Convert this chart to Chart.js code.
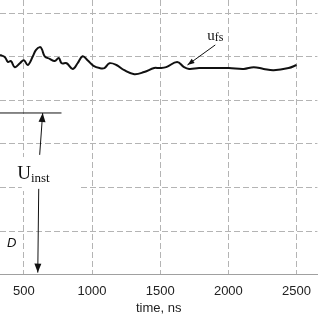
<!DOCTYPE html>
<html>
<head>
<meta charset="utf-8">
<script src="https://cdn.jsdelivr.net/npm/chart.js@4/dist/chart.umd.min.js"></script>
<style>
html,body{margin:0;padding:0;background:#fff;}
#wrap{width:320px;height:320px;}
</style>
</head>
<body>
<div id="wrap"><canvas id="c" width="320" height="320"></canvas></div>
<script>
// time, ns
const times = [325,361,383,405,434,471,500,529,566,588,617,631,653,690,726,756,777,814,858,894,931,967,1011,1055,1091,1128,1179,1237,1310,1383,1456,1493,1544,1624,1675,1712,1785,1894,2004,2113,2186,2259,2332,2442,2500];
// free-surface velocity (relative units)
const ufs = [5.04,4.99,4.88,4.90,4.76,4.85,4.92,4.81,5.01,5.15,5.22,5.18,5.01,4.95,4.90,4.97,4.85,4.85,4.72,4.85,5.01,4.92,4.79,4.74,4.74,4.85,4.81,4.69,4.60,4.65,4.74,4.74,4.76,4.88,4.76,4.72,4.74,4.74,4.74,4.72,4.76,4.72,4.69,4.74,4.81];
const xTicks = [500,1000,1500,2000,2500];
const yTicks = [0,1,2,3,4,5,6];
const xRange = [325,2653];
const yRange = [0,6.3];

const annot = {
  ufsLabel:{x:1845,y:5.38},
  ufsArrow:{x1:1904,y1:5.27,x2:1700,y2:4.81},
  hLine:{x1:325,x2:776,y:3.71},
  upArrow:{x1:616,y1:2.75,x2:638,y2:3.71},
  uinst:{x:451,y:2.2},
  box:{x1:485,x2:907,y1:1.92,y2:2.70},
  downArrow:{x1:609,y1:1.97,x2:602,y2:0.05},
  dLabel:{x:376,y:0.73}
};

function arrow(ctx,x1,y1,x2,y2,len,w){
  ctx.beginPath();ctx.moveTo(x1,y1);ctx.lineTo(x2,y2);ctx.stroke();
  const a=Math.atan2(y2-y1,x2-x1);
  ctx.beginPath();
  ctx.moveTo(x2,y2);
  ctx.lineTo(x2-len*Math.cos(a)+w*Math.sin(a), y2-len*Math.sin(a)-w*Math.cos(a));
  ctx.lineTo(x2-len*Math.cos(a)-w*Math.sin(a), y2-len*Math.sin(a)+w*Math.cos(a));
  ctx.closePath();ctx.fill();
}

const annotPlugin = {
  id:'annot',
  afterDraw(chart){
    const ctx=chart.ctx, xs=chart.scales.x, ys=chart.scales.y;
    const X=v=>xs.getPixelForValue(v), Y=v=>ys.getPixelForValue(v);
    ctx.save();
    const b=annot.box;
    ctx.fillStyle='#fff';
    ctx.fillRect(X(b.x1),Y(b.y2),X(b.x2)-X(b.x1),Y(b.y1)-Y(b.y2));
    ctx.strokeStyle='#111';ctx.fillStyle='#111';ctx.lineWidth=1;
    const h=annot.hLine;
    ctx.beginPath();ctx.moveTo(X(h.x1),Y(h.y));ctx.lineTo(X(h.x2),Y(h.y));ctx.stroke();
    const ua=annot.upArrow;
    arrow(ctx,X(ua.x1),Y(ua.y1),X(ua.x2),Y(ua.y2),9,3.5);
    const da=annot.downArrow;
    arrow(ctx,X(da.x1),Y(da.y1),X(da.x2),Y(da.y2),9,3.5);
    const fa=annot.ufsArrow;
    arrow(ctx,X(fa.x1),Y(fa.y1),X(fa.x2),Y(fa.y2),7,2.5);
    ctx.textBaseline='alphabetic';ctx.textAlign='left';
    ctx.font='19px "Liberation Serif", serif';
    const ux=X(annot.uinst.x), uy=Y(annot.uinst.y);
    ctx.fillText('U',ux,uy);
    const uw=ctx.measureText('U').width;
    ctx.font='13px "Liberation Serif", serif';
    ctx.fillText('inst',ux+uw,uy+3);
    ctx.font='15px "Liberation Serif", serif';
    const fx=X(annot.ufsLabel.x), fy=Y(annot.ufsLabel.y);
    ctx.fillText('u',fx,fy);
    const fw=ctx.measureText('u').width;
    ctx.font='12px "Liberation Serif", serif';
    ctx.fillText('fs',fx+fw,fy+1);
    ctx.font='italic 13px "Liberation Sans", Arial, sans-serif';
    ctx.textBaseline='middle';
    ctx.fillText('D',X(annot.dLabel.x),Y(annot.dLabel.y));
    ctx.restore();
  }
};

new Chart(document.getElementById('c'),{
  type:'line',
  data:{datasets:[{
    data:times.map((t,i)=>({x:t,y:ufs[i]})),
    borderColor:'#111',borderWidth:2,pointRadius:0,tension:0.4,fill:false
  }]},
  options:{
    responsive:false,animation:false,
    layout:{padding:0},
    plugins:{legend:{display:false},tooltip:{enabled:false}},
    scales:{
      x:{
        type:'linear',min:xRange[0],max:xRange[1],
        afterBuildTicks:s=>{s.ticks=xTicks.map(v=>({value:v}));},
        grid:{color:'#b4b4b4',lineWidth:1,drawTicks:false},
        border:{display:true,color:'#a0a0a0',width:1,dash:[6,3]},
        ticks:{padding:9,color:'#222',font:{family:'"Liberation Sans", Arial, sans-serif',size:13},maxRotation:0,callback:v=>String(v)},
        title:{display:true,text:'time, ns',color:'#222',padding:{top:-8,bottom:4},font:{family:'"Liberation Sans", Arial, sans-serif',size:13}}
      },
      y:{
        type:'linear',min:yRange[0],max:yRange[1],
        afterBuildTicks:s=>{s.ticks=yTicks.map(v=>({value:v}));},
        grid:{color:c=>c.tick&&c.tick.value===0?'transparent':'#b4b4b4',lineWidth:1,drawTicks:false},
        border:{display:false,dash:[6,3]},
        ticks:{display:false}
      }
    }
  },
  plugins:[annotPlugin]
});
</script>
</body>
</html>
